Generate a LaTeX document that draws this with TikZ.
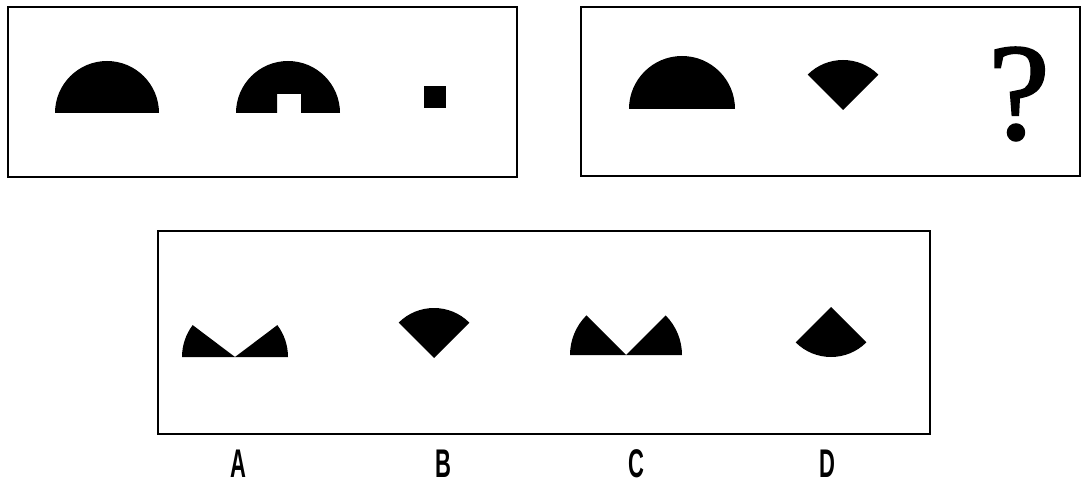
\documentclass[tikz,border=0pt]{standalone}
\usepackage{fontspec}
\newfontfamily\labfont{Liberation Sans}
\newfontfamily\qfont[FakeBold=1.6]{Liberation Serif}
\begin{document}
\begin{tikzpicture}[x=1pt,y=1pt,
  frame/.style={draw=black,line width=2.6pt},
  shp/.style={fill=black},
  lab/.style={font=\labfont\bfseries\fontsize{40}{40}\selectfont,inner sep=0pt}]
\useasboundingbox (0,0) rectangle (1088,-484);
% frames
\draw[frame] (8,-7) rectangle (517,-177);
\draw[frame] (581,-7) rectangle (1080,-176);
\draw[frame] (158,-231) rectangle (930,-434);
% row 1
\fill[shp] (55,-113) arc[start angle=180,end angle=0,radius=52] -- cycle;
\fill[shp] (236,-113) arc[start angle=180,end angle=0,radius=52] -- (301,-113) -- (301,-94) -- (277,-94) -- (277,-113) -- cycle;
\fill[shp] (424,-86) rectangle (446,-108);
% row 2
\fill[shp] (629,-109) arc[start angle=180,end angle=0,radius=53] -- cycle;
\fill[shp] (843,-110) -- ++(45:50) arc[start angle=45,end angle=135,radius=50] -- cycle;
\node[inner sep=0pt,font=\qfont\fontsize{138}{138}\selectfont] (q) at (1019,-94) {?};
% options
\fill[shp] (235,-357) -- ++(143:53) arc[start angle=143,end angle=180,radius=53] -- cycle;
\fill[shp] (235,-357) -- ++(0:53) arc[start angle=0,end angle=37,radius=53] -- cycle;
\fill[shp] (434,-358) -- ++(45:50) arc[start angle=45,end angle=135,radius=50] -- cycle;
\fill[shp] (626,-355) -- ++(135:56) arc[start angle=135,end angle=180,radius=56] -- cycle;
\fill[shp] (626,-355) -- ++(0:56) arc[start angle=0,end angle=45,radius=56] -- cycle;
\fill[shp] (831,-307) -- ++(225:50) arc[start angle=225,end angle=315,radius=50] -- cycle;
% labels
\node[lab] (la) at (238,-464) {\scalebox{0.55}[1]{A}};
\node[lab] (lb) at (443,-464) {\scalebox{0.55}[1]{B}};
\node[lab] (lc) at (636,-464) {\scalebox{0.55}[1]{C}};
\node[lab] (ld) at (827,-464) {\scalebox{0.55}[1]{D}};
\end{tikzpicture}
\end{document}
